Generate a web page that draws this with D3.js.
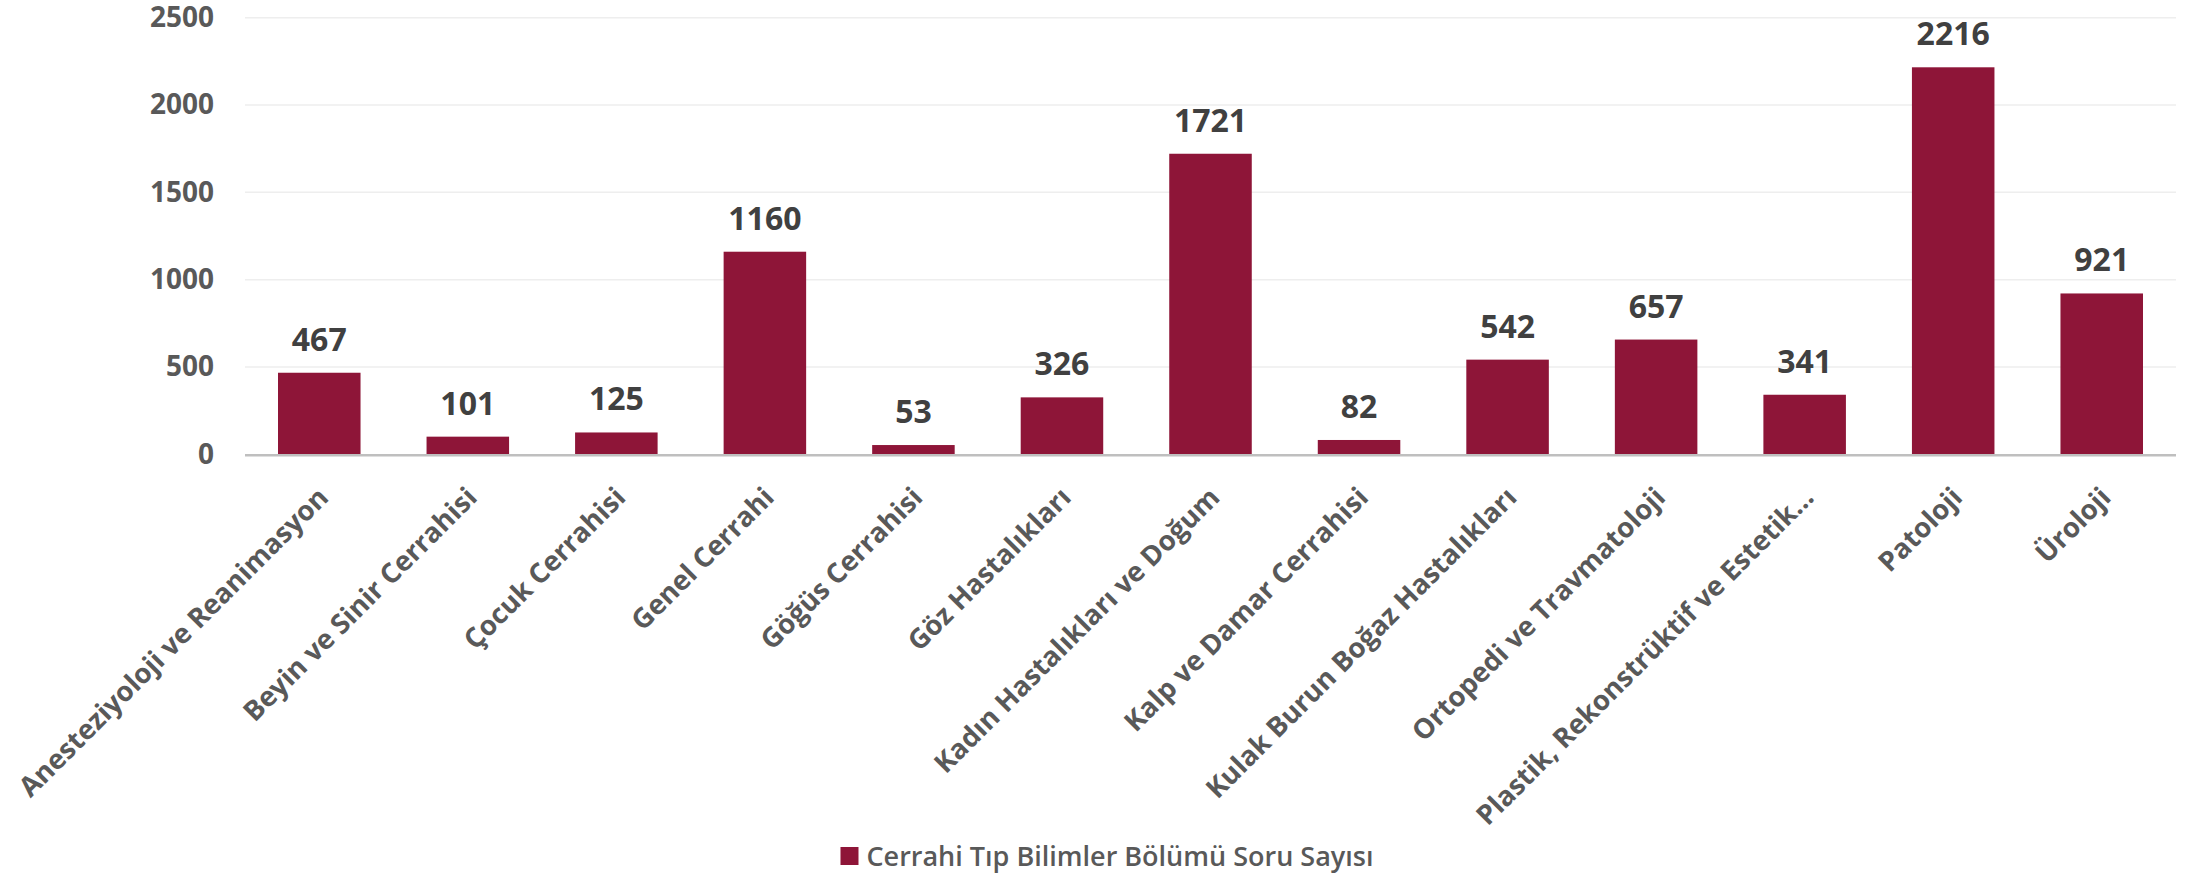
<!DOCTYPE html>
<html>
<head>
<meta charset="utf-8">
<script src="https://cdn.jsdelivr.net/npm/d3@7"></script>
<style>
  html, body { margin: 0; padding: 0; background: #fff; }
  svg { display: block; }
</style>
</head>
<body>
<svg id="chart" width="2188" height="875"></svg>
<script>
const categories = [
  "Anesteziyoloji ve Reanimasyon",
  "Beyin ve Sinir Cerrahisi",
  "Çocuk Cerrahisi",
  "Genel Cerrahi",
  "Göğüs Cerrahisi",
  "Göz Hastalıkları",
  "Kadın Hastalıkları ve Doğum",
  "Kalp ve Damar Cerrahisi",
  "Kulak Burun Boğaz Hastalıkları",
  "Ortopedi ve Travmatoloji",
  "Plastik, Rekonstrüktif ve Estetik…",
  "Patoloji",
  "Üroloji"
];
const values = [467, 101, 125, 1160, 53, 326, 1721, 82, 542, 657, 341, 2216, 921];
const yTicks = [0, 500, 1000, 1500, 2000, 2500];
const seriesName = "Cerrahi Tıp Bilimler Bölümü Soru Sayısı";

(function () {
const svg = d3.select("#chart");
const pLeft = 245, pRight = 2176, pTop = 17.7, pBottom = 454.3;
const barColor = "#8e1538";
const textGray = "#595959";

const x = d3.scaleBand().domain(categories).range([pLeft, pRight])
  .paddingInner(0.8/1.8).paddingOuter(0.4/1.8);
const y = d3.scaleLinear().domain([0, 2500]).range([pBottom, pTop]);

// gridlines
svg.append("g").selectAll("line").data(yTicks.filter(d => d > 0)).join("line")
  .attr("x1", pLeft).attr("x2", pRight)
  .attr("y1", d => y(d)).attr("y2", d => y(d))
  .attr("stroke", "#eeeeee").attr("stroke-width", 1.5);

// y axis labels
const yAxis = d3.axisLeft(y).tickValues(yTicks).tickFormat(d3.format("d")).tickSize(0).tickPadding(31);
const gy = svg.append("g").attr("transform", `translate(${pLeft},0)`).call(yAxis);
gy.select(".domain").remove();
gy.selectAll("text")
  .attr("fill", textGray)
  .style("font-family", "'Open Sans', sans-serif")
  .style("font-weight", 700)
  .style("font-size", "28px");

// bars
svg.append("g").selectAll("rect").data(values).join("rect")
  .attr("x", (d, i) => x(categories[i]))
  .attr("width", x.bandwidth())
  .attr("y", d => y(d))
  .attr("height", d => y(0) - y(d))
  .attr("fill", barColor);

// data labels
svg.append("g").selectAll("text").data(values).join("text")
  .attr("x", (d, i) => x(categories[i]) + x.bandwidth()/2)
  .attr("y", d => y(d) - 22)
  .attr("text-anchor", "middle")
  .attr("fill", "#404040")
  .style("font-family", "'Open Sans', sans-serif")
  .style("font-weight", 700)
  .style("font-size", "32px")
  .text(d => d);

// x axis line
svg.append("line")
  .attr("x1", pLeft).attr("x2", pRight)
  .attr("y1", y(0) + 1).attr("y2", y(0) + 1)
  .attr("stroke", "#bfbfbf").attr("stroke-width", 2.5);

// category labels
const xAxis = d3.axisBottom(x).tickSize(0).tickPadding(0);
const gx = svg.append("g").attr("transform", `translate(0,${pBottom})`).call(xAxis);
gx.select(".domain").remove();
gx.selectAll("text")
  .attr("text-anchor", "end")
  .attr("dy", "0.35em")
  .attr("y", 0)
  .attr("transform", "translate(4,38) rotate(-45)")
  .attr("fill", textGray)
  .style("font-family", "'Open Sans', sans-serif")
  .style("font-weight", 700)
  .style("font-size", "27.5px");

// legend
const legend = svg.append("g");
const lt = legend.append("text")
  .attr("x", 0).attr("y", 0)
  .attr("fill", textGray)
  .style("font-family", "'Open Sans', sans-serif")
  .style("font-weight", 600)
  .style("font-size", "27px")
  .text(seriesName);
const tw = lt.node().getComputedTextLength();
const sq = 18, gap = 8;
const total = sq + gap + tw;
const lx = 1107 - total/2;
legend.insert("rect", "text")
  .attr("x", lx).attr("y", 847).attr("width", sq).attr("height", sq)
  .attr("fill", barColor);
lt.attr("x", lx + sq + gap).attr("y", 866);
})();
</script>
</body>
</html>
